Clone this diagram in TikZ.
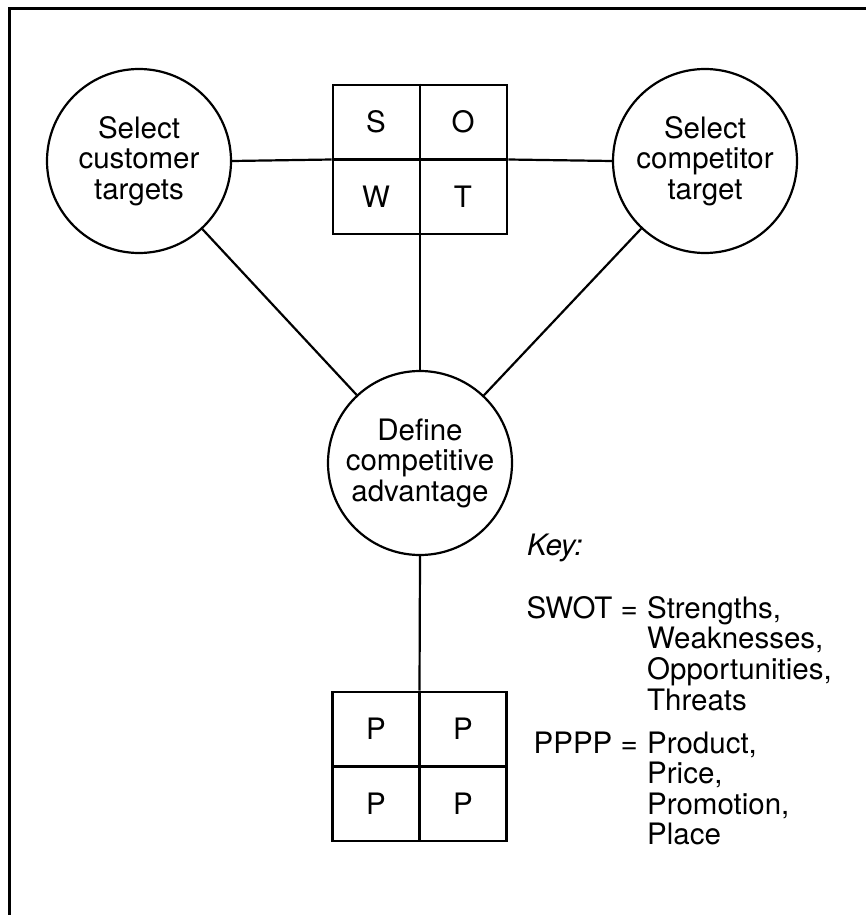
\documentclass[tikz,border=0pt]{standalone}
\usepackage{fontspec}
\setmainfont{TeX Gyre Heros}
\tikzset{
  bigfont/.style={font=\fontsize{29.5}{30.5}\selectfont},
  circ/.style={circle, draw, line width=2.2pt, minimum size=184pt, inner sep=0pt, align=center, bigfont, fill=white},
  grid4/.style={rectangle, draw, line width=2.6pt, minimum width=174pt, minimum height=149pt, inner sep=0pt},
  letter/.style={bigfont, inner sep=0pt},
  conn/.style={line width=2.2pt},
  keytext/.style={bigfont, inner sep=0pt},
  frame/.style={line width=3pt}
}
\begin{document}
\begin{tikzpicture}[x=1pt,y=-1pt]
\useasboundingbox (0,0) rectangle (866,915);
% frame (top and left edges visible)
\coordinate (fc) at (9,9);
\coordinate (ftr) at (866,9);
\coordinate (fbl) at (9,915);
\draw[frame] (ftr) -- (fc) -- (fbl);

% SWOT box
\node[grid4] (swot) at (420,159.5) {};
\draw[conn] (swot.north) -- (swot.south);
\draw[conn] (swot.west) -- (swot.east);
\node[letter] (s) at (376,122) {S};
\node[letter] (o) at (463,122) {O};
\node[letter] (w) at (376,197) {W};
\node[letter] (t) at (463,197) {T};

% circles
\node[circ] (lc) at (139,161) {Select\\customer\\targets};
\node[circ] (rc) at (705,161) {Select\\competitor\\target};
\node[circ] (cc) at (420,463) {Define\\competitive\\advantage};

% PPPP box
\node[grid4] (pppp) at (419.5,766.5) {};
\draw[conn] (pppp.north) -- (pppp.south);
\draw[conn] (pppp.west) -- (pppp.east);
\node[letter] (p1) at (376,729) {P};
\node[letter] (p2) at (463,729) {P};
\node[letter] (p3) at (376,804) {P};
\node[letter] (p4) at (463,804) {P};

% connectors
\draw[conn] (lc.east) -- (swot.west);
\draw[conn] (swot.east) -- (rc.west);
\draw[conn] (lc) -- (cc);
\draw[conn] (rc) -- (cc);
\draw[conn] (swot.south) -- (cc.north);
\draw[conn] (cc.south) -- (pppp.north);

% key
\node[keytext, anchor=base west] (key) at (527,555) {\itshape Key:};
\node[keytext, anchor=base east] (swotlbl) at (638,618) {SWOT =};
\node[keytext, anchor=base west] (swotval) at (647,618)
  {\begin{tabular}[t]{@{}l@{}}Strengths,\\Weaknesses,\\Opportunities,\\Threats\end{tabular}};
\node[keytext, anchor=base east] (pplbl) at (638,753) {PPPP =};
\node[keytext, anchor=base west] (ppval) at (647,753)
  {\begin{tabular}[t]{@{}l@{}}Product,\\Price,\\Promotion,\\Place\end{tabular}};
\end{tikzpicture}
\end{document}
